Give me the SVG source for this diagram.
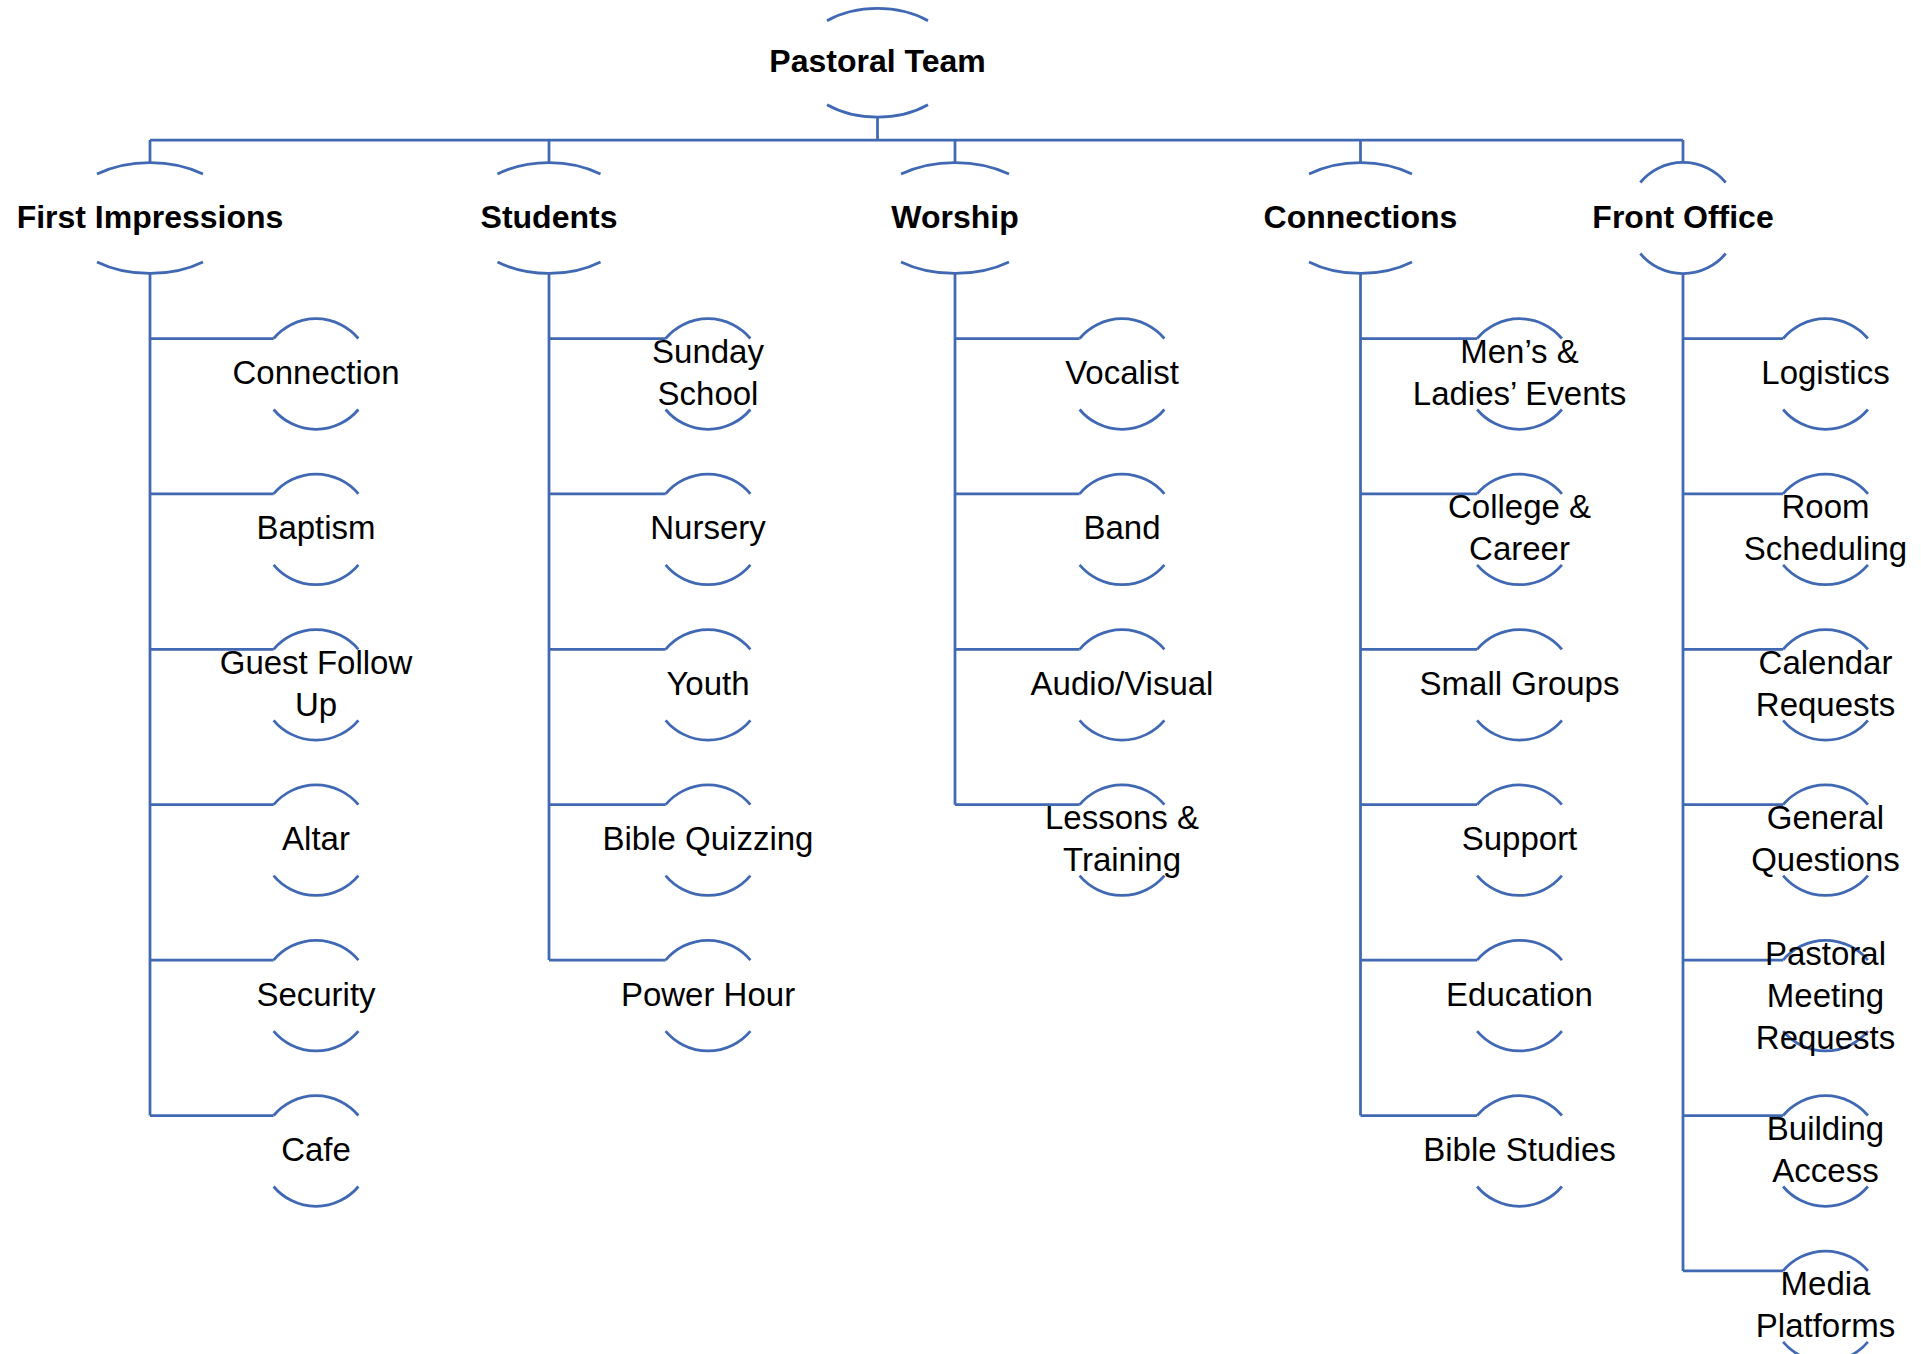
<svg xmlns="http://www.w3.org/2000/svg" xmlns:xlink="http://www.w3.org/1999/xlink" width="1921" height="1354" viewBox="0 0 1921 1354">
<style>
.ln{fill:none;stroke:#4169B3;stroke-width:2.75}
.t{font-family:"Liberation Sans",Arial,sans-serif;font-size:33px;text-anchor:middle;fill:#000}
.b{font-family:"Liberation Sans",Arial,sans-serif;font-size:32px;font-weight:bold;text-anchor:middle;fill:#000}
</style>
<defs>
<path id="carc" d="M-42.4,-35.5 A55.3,55.3 0 0 1 42.4,-35.5 M-42.4,35.5 A55.3,55.3 0 0 0 42.4,35.5"/>
</defs>
<rect width="1921" height="1354" fill="#fff"/>
<g id="connectors" class="ln">
<path d="M877.5,117 V140 M150,140 H1683 M150,140 V162.5 M549,140 V162.5 M955,140 V162.5 M1360.5,140 V162.5 M1683,140 V162.5"/>
<path d="M150,273.5 V1115.5 M150,338.5 H273.6 M150,493.9 H273.6 M150,649.3 H273.6 M150,804.7 H273.6 M150,960.1 H273.6 M150,1115.5 H273.6"/>
<path d="M549,273.5 V960.1 M549,338.5 H665.6 M549,493.9 H665.6 M549,649.3 H665.6 M549,804.7 H665.6 M549,960.1 H665.6"/>
<path d="M955,273.5 V804.7 M955,338.5 H1079.6 M955,493.9 H1079.6 M955,649.3 H1079.6 M955,804.7 H1079.6"/>
<path d="M1360.5,273.5 V1115.5 M1360.5,338.5 H1477.1 M1360.5,493.9 H1477.1 M1360.5,649.3 H1477.1 M1360.5,804.7 H1477.1 M1360.5,960.1 H1477.1 M1360.5,1115.5 H1477.1"/>
<path d="M1683,273.5 V1270.9 M1683,338.5 H1783.1 M1683,493.9 H1783.1 M1683,649.3 H1783.1 M1683,804.7 H1783.1 M1683,960.1 H1783.1 M1683,1115.5 H1783.1 M1683,1270.9 H1783.1"/>
</g>
<g id="n-pastoral-team" transform="translate(877.5,62.7)"><path class="ln" d="M-50.5,-42 A79.6,54.3 0 0 1 50.5,-42 M-50.5,42 A79.6,54.3 0 0 0 50.5,42"/><text class="b" y="9.5">Pastoral Team</text></g>
<g id="n-first-impressions" transform="translate(150,218)"><path class="ln" d="M-53,-44 A87,55.5 0 0 1 53,-44 M-53,44 A87,55.5 0 0 0 53,44"/><text class="b" y="10">First Impressions</text></g>
<g id="n-students" transform="translate(549,218)"><path class="ln" d="M-51.5,-44 A84.5,55.5 0 0 1 51.5,-44 M-51.5,44 A84.5,55.5 0 0 0 51.5,44"/><text class="b" y="10">Students</text></g>
<g id="n-worship" transform="translate(955,218)"><path class="ln" d="M-54,-44 A88.6,55.5 0 0 1 54,-44 M-54,44 A88.6,55.5 0 0 0 54,44"/><text class="b" y="10">Worship</text></g>
<g id="n-connections" transform="translate(1360.5,218)"><path class="ln" d="M-51.5,-44 A84.5,55.5 0 0 1 51.5,-44 M-51.5,44 A84.5,55.5 0 0 0 51.5,44"/><text class="b" y="10">Connections</text></g>
<g id="n-front-office" transform="translate(1683,218)"><path class="ln" d="M-42.7,-35.5 A55.5,55.5 0 0 1 42.7,-35.5 M-42.7,35.5 A55.5,55.5 0 0 0 42.7,35.5"/><text class="b" y="10">Front Office</text></g>

<g id="n-connection" transform="translate(316,374)"><use class="ln" href="#carc"/><text class="t" y="10">Connection</text></g>
<g id="n-baptism" transform="translate(316,529.4)"><use class="ln" href="#carc"/><text class="t" y="10">Baptism</text></g>
<g id="n-guest-follow-up" transform="translate(316,684.8)"><use class="ln" href="#carc"/><text class="t"><tspan x="0" y="-11">Guest Follow</tspan><tspan x="0" y="31">Up</tspan></text></g>
<g id="n-altar" transform="translate(316,840.2)"><use class="ln" href="#carc"/><text class="t" y="10">Altar</text></g>
<g id="n-security" transform="translate(316,995.6)"><use class="ln" href="#carc"/><text class="t" y="10">Security</text></g>
<g id="n-cafe" transform="translate(316,1151)"><use class="ln" href="#carc"/><text class="t" y="10">Cafe</text></g>

<g id="n-sunday-school" transform="translate(708,374)"><use class="ln" href="#carc"/><text class="t"><tspan x="0" y="-11">Sunday</tspan><tspan x="0" y="31">School</tspan></text></g>
<g id="n-nursery" transform="translate(708,529.4)"><use class="ln" href="#carc"/><text class="t" y="10">Nursery</text></g>
<g id="n-youth" transform="translate(708,684.8)"><use class="ln" href="#carc"/><text class="t" y="10">Youth</text></g>
<g id="n-bible-quizzing" transform="translate(708,840.2)"><use class="ln" href="#carc"/><text class="t" y="10">Bible Quizzing</text></g>
<g id="n-power-hour" transform="translate(708,995.6)"><use class="ln" href="#carc"/><text class="t" y="10">Power Hour</text></g>

<g id="n-vocalist" transform="translate(1122,374)"><use class="ln" href="#carc"/><text class="t" y="10">Vocalist</text></g>
<g id="n-band" transform="translate(1122,529.4)"><use class="ln" href="#carc"/><text class="t" y="10">Band</text></g>
<g id="n-audio-visual" transform="translate(1122,684.8)"><use class="ln" href="#carc"/><text class="t" y="10">Audio/Visual</text></g>
<g id="n-lessons-training" transform="translate(1122,840.2)"><use class="ln" href="#carc"/><text class="t"><tspan x="0" y="-11">Lessons &amp;</tspan><tspan x="0" y="31">Training</tspan></text></g>

<g id="n-mens-ladies-events" transform="translate(1519.5,374)"><use class="ln" href="#carc"/><text class="t"><tspan x="0" y="-11">Men’s &amp;</tspan><tspan x="0" y="31">Ladies’ Events</tspan></text></g>
<g id="n-college-career" transform="translate(1519.5,529.4)"><use class="ln" href="#carc"/><text class="t"><tspan x="0" y="-11">College &amp;</tspan><tspan x="0" y="31">Career</tspan></text></g>
<g id="n-small-groups" transform="translate(1519.5,684.8)"><use class="ln" href="#carc"/><text class="t" y="10">Small Groups</text></g>
<g id="n-support" transform="translate(1519.5,840.2)"><use class="ln" href="#carc"/><text class="t" y="10">Support</text></g>
<g id="n-education" transform="translate(1519.5,995.6)"><use class="ln" href="#carc"/><text class="t" y="10">Education</text></g>
<g id="n-bible-studies" transform="translate(1519.5,1151)"><use class="ln" href="#carc"/><text class="t" y="10">Bible Studies</text></g>

<g id="n-logistics" transform="translate(1825.5,374)"><use class="ln" href="#carc"/><text class="t" y="10">Logistics</text></g>
<g id="n-room-scheduling" transform="translate(1825.5,529.4)"><use class="ln" href="#carc"/><text class="t"><tspan x="0" y="-11">Room</tspan><tspan x="0" y="31">Scheduling</tspan></text></g>
<g id="n-calendar-requests" transform="translate(1825.5,684.8)"><use class="ln" href="#carc"/><text class="t"><tspan x="0" y="-11">Calendar</tspan><tspan x="0" y="31">Requests</tspan></text></g>
<g id="n-general-questions" transform="translate(1825.5,840.2)"><use class="ln" href="#carc"/><text class="t"><tspan x="0" y="-11">General</tspan><tspan x="0" y="31">Questions</tspan></text></g>
<g id="n-pastoral-meeting-requests" transform="translate(1825.5,995.6)"><use class="ln" href="#carc"/><text class="t"><tspan x="0" y="-31">Pastoral</tspan><tspan x="0" y="11">Meeting</tspan><tspan x="0" y="53">Requests</tspan></text></g>
<g id="n-building-access" transform="translate(1825.5,1151)"><use class="ln" href="#carc"/><text class="t"><tspan x="0" y="-11">Building</tspan><tspan x="0" y="31">Access</tspan></text></g>
<g id="n-media-platforms" transform="translate(1825.5,1306.4)"><use class="ln" href="#carc"/><text class="t"><tspan x="0" y="-11">Media</tspan><tspan x="0" y="31">Platforms</tspan></text></g>
</svg>
